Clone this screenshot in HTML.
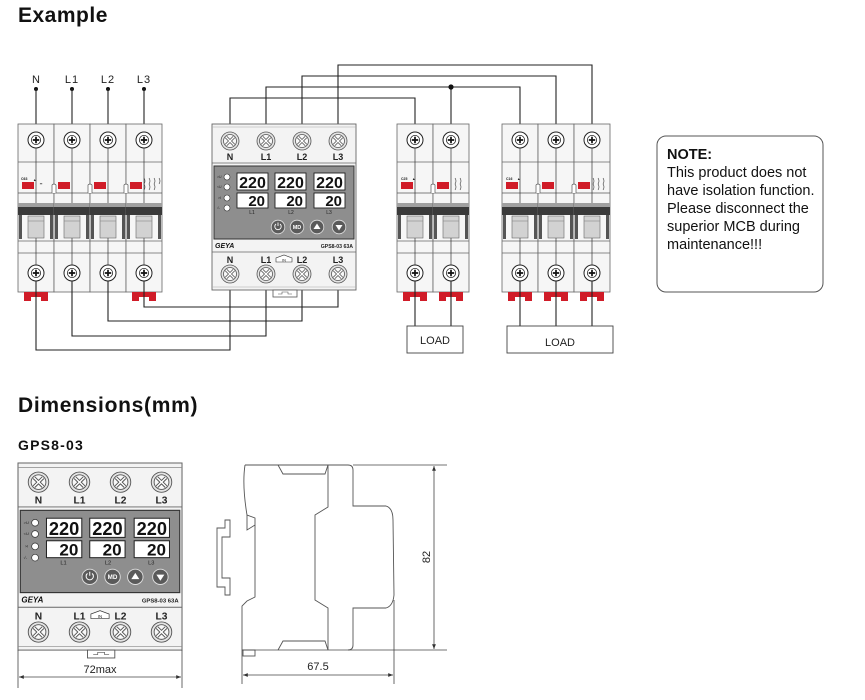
<!DOCTYPE html>
<html><head><meta charset="utf-8"><style>
html,body{margin:0;padding:0;background:#fff;}
svg{display:block;}
text{font-family:"Liberation Sans",Arial,sans-serif;}
</style></head><body>
<svg width="865" height="700" viewBox="0 0 865 700" xmlns="http://www.w3.org/2000/svg">
<defs>
<g id="screw">
<circle r="8" fill="#fff" stroke="#222" stroke-width="1"/>
<circle r="4.6" fill="#fff" stroke="#222" stroke-width="0.8"/>
<path d="M-3.2,0 H3.2 M0,-3.2 V3.2" stroke="#111" stroke-width="1.7"/>
</g>
<g id="pole">
<rect x="0" y="124" width="36" height="168" fill="#f6f6f6" stroke="#666" stroke-width="0.8"/>
<line x1="0" y1="162" x2="36" y2="162" stroke="#666" stroke-width="0.8"/>
<line x1="0" y1="193" x2="36" y2="193" stroke="#555" stroke-width="0.8"/>
<line x1="18" y1="148" x2="18" y2="203" stroke="#333" stroke-width="0.7"/>
<rect x="0" y="203" width="36" height="4" fill="#a0a0a0"/>
<rect x="0" y="207" width="36" height="8" fill="#3a3a3a"/>
<rect x="1" y="215" width="3" height="24" fill="#555"/>
<rect x="32" y="215" width="3" height="24" fill="#555"/>
<rect x="10" y="216" width="16" height="22" fill="#d2d2d2" stroke="#666" stroke-width="0.6"/>
<line x1="10" y1="221" x2="26" y2="221" stroke="#888" stroke-width="0.6"/>
<line x1="0" y1="241" x2="36" y2="241" stroke="#666" stroke-width="0.8"/>
<line x1="0" y1="253" x2="36" y2="253" stroke="#666" stroke-width="0.8"/>
<line x1="18" y1="238" x2="18" y2="265" stroke="#333" stroke-width="0.7"/>
<use href="#screw" x="18" y="140"/>
<use href="#screw" x="18" y="273"/>
<rect x="4" y="182" width="12" height="7" fill="#d01c28"/>
</g>
<g id="clip"><path d="M-12,292 H12 V301 H5 V297 H-5 V301 H-12 Z" fill="#d01c28"/></g>
<g id="gterm">
<circle r="9" fill="#e4e4e4" stroke="#555" stroke-width="0.8"/>
<circle r="6.5" fill="#f8f8f8" stroke="#555" stroke-width="0.8"/>
<path d="M-4,-4 L4,4 M4,-4 L-4,4" stroke="#555" stroke-width="3"/>
<path d="M-4,-4 L4,4 M4,-4 L-4,4" stroke="#fff" stroke-width="1.3"/>
</g>
<g id="btn"><circle r="6.8" fill="#5a5a5a" stroke="#e0e0e0" stroke-width="0.8"/></g>
<marker id="ar" viewBox="0 0 10 10" refX="10" refY="5" markerWidth="8" markerHeight="6" orient="auto-start-reverse"><path d="M0,1 L10,5 L0,9 Z" fill="#333"/></marker>
</defs>

<!-- Titles -->
<text x="18" y="22" font-size="21" font-weight="bold" letter-spacing="0.5" fill="#111">Example</text>
<text x="18" y="412" font-size="21" font-weight="bold" letter-spacing="0.7" fill="#111">Dimensions(mm)</text>
<text x="18" y="450" font-size="14" font-weight="bold" letter-spacing="1.2" fill="#111">GPS8-03</text>

<!-- Input labels -->
<g font-size="11" fill="#222" text-anchor="middle">
<text x="36" y="83">N</text><text x="72" y="83" letter-spacing="1">L1</text><text x="108" y="83" letter-spacing="1">L2</text><text x="144" y="83" letter-spacing="1">L3</text>
</g>
<g fill="#111"><circle cx="36" cy="89" r="2"/><circle cx="72" cy="89" r="2"/><circle cx="108" cy="89" r="2"/><circle cx="144" cy="89" r="2"/></g>
<g stroke="#222" stroke-width="1.1" fill="none">
<path d="M36,89 V132 M72,89 V132 M108,89 V132 M144,89 V132"/>
</g>

<!-- 4-pole breaker -->
<use href="#pole" x="18"/><use href="#pole" x="54"/><use href="#pole" x="90"/><use href="#pole" x="126"/>
<use href="#clip" x="36"/><use href="#clip" x="144"/>
<g font-size="3.5" fill="#222" font-weight="bold"><text x="21" y="180">C63</text><text x="33" y="181">▲</text><text x="40" y="185">━</text></g>
<g stroke="#555" stroke-width="0.7" fill="#fff">
<path d="M52,193 V185 Q54,183 56,185 V193 M88,193 V185 Q90,183 92,185 V193 M124,193 V185 Q126,183 128,185 V193"/>
</g>
<g stroke="#333" stroke-width="0.6" fill="none"><path d="M144,178 q2,3 0,6 q2,3 0,6 M149,178 q2,3 0,6 q2,3 0,6 M154,178 q2,3 0,6 q2,3 0,6 M159,178 q2,3 0,6"/></g>

<!-- bottom wires to GPS -->
<g stroke="#222" stroke-width="1.1" fill="none">
<path d="M36,281 V350 H230 V283"/>
<path d="M72,281 V336 H266 V283"/>
<path d="M108,281 V321 H302 V283"/>
<path d="M144,281 V307 H338 V283"/>
</g>

<!-- top wires GPS to right breakers -->
<g stroke="#222" stroke-width="1.1" fill="none">
<path d="M230,132 V98 H415 V132"/>
<path d="M266,132 V87 H520 V132"/>
<path d="M302,132 V76 H556 V132"/>
<path d="M338,132 V65 H592 V132"/>
<path d="M451,87 V132"/>
</g>
<circle cx="451" cy="87" r="2.6" fill="#111"/>

<!-- GPS device top -->
<g transform="translate(212,124)">
<rect x="0" y="0" width="144" height="166" fill="#f3f3f3" stroke="#666" stroke-width="0.9"/>
<line x1="0" y1="3" x2="144" y2="3" stroke="#aaa" stroke-width="0.6"/>
<line x1="0" y1="39" x2="144" y2="39" stroke="#666" stroke-width="0.8"/>
<use href="#gterm" x="18" y="17"/><use href="#gterm" x="54" y="17"/><use href="#gterm" x="90" y="17"/><use href="#gterm" x="126" y="17"/>
<g font-size="9" font-weight="bold" fill="#222" text-anchor="middle"><text x="18" y="36">N</text><text x="54" y="36">L1</text><text x="90" y="36">L2</text><text x="126" y="36">L3</text></g>
<rect x="2" y="42" width="140" height="73" fill="#8e8e8e" stroke="#333" stroke-width="1"/>
<g fill="#fff" stroke="#333" stroke-width="0.6"><circle cx="15" cy="53" r="3"/><circle cx="15" cy="63" r="3"/><circle cx="15" cy="74" r="3"/><circle cx="15" cy="84" r="3"/></g>
<g font-size="3.5" fill="#222"><text x="5" y="54">&gt;U</text><text x="5" y="64">&lt;U</text><text x="6" y="75">&gt;I</text><text x="5" y="85">√-</text></g>
<g fill="#fff" stroke="#222" stroke-width="0.9">
<rect x="25" y="49" width="31" height="17"/><rect x="63" y="49" width="31" height="17"/><rect x="102" y="49" width="31" height="17"/>
<rect x="25" y="69" width="31" height="15"/><rect x="63" y="69" width="31" height="15"/><rect x="102" y="69" width="31" height="15"/>
</g>
<g font-size="16" font-weight="bold" fill="#111" text-anchor="middle" font-family="Liberation Sans Narrow, Liberation Sans, sans-serif">
<text x="40.5" y="64">220</text><text x="78.5" y="64">220</text><text x="117.5" y="64">220</text>
</g>
<g font-size="15" font-weight="bold" fill="#111" text-anchor="end">
<text x="53" y="82">20</text><text x="91" y="82">20</text><text x="130" y="82">20</text>
</g>
<g font-size="5" fill="#222" text-anchor="middle"><text x="40" y="90">L1</text><text x="79" y="90">L2</text><text x="117" y="90">L3</text></g>
<use href="#btn" x="66" y="103"/><use href="#btn" x="85" y="103"/><use href="#btn" x="105" y="103"/><use href="#btn" x="127" y="103"/>
<path d="M64,100 a3.2,3.2 0 1 0 4,0 M66,98.5 V102" stroke="#fff" stroke-width="0.9" fill="none"/>
<text x="85" y="105" font-size="5.5" font-weight="bold" fill="#fff" text-anchor="middle">MD</text>
<path d="M105,99.5 L108.5,105 H101.5 Z" fill="#fff"/>
<path d="M127,106.5 L130.5,101 H123.5 Z" fill="#fff"/>
<text x="3" y="124" font-size="7" font-weight="bold" font-style="italic" fill="#111">GEYA</text>
<text x="141" y="124" font-size="5.2" font-weight="bold" fill="#222" text-anchor="end">GPS8-03 63A</text>
<line x1="0" y1="128" x2="144" y2="128" stroke="#666" stroke-width="0.8"/>
<g font-size="9" font-weight="bold" fill="#222" text-anchor="middle"><text x="18" y="139">N</text><text x="54" y="139">L1</text><text x="90" y="139">L2</text><text x="126" y="139">L3</text></g>
<path d="M64,138 V134 L72,131 L80,134 V138 Z" fill="#fff" stroke="#333" stroke-width="0.6"/>
<text x="72" y="137.5" font-size="3.8" fill="#222" text-anchor="middle">IN</text>
<use href="#gterm" x="18" y="150"/><use href="#gterm" x="54" y="150"/><use href="#gterm" x="90" y="150"/><use href="#gterm" x="126" y="150"/>
<line x1="0" y1="163" x2="144" y2="163" stroke="#aaa" stroke-width="0.6"/>
<rect x="61" y="166" width="24" height="7" fill="#fff" stroke="#555" stroke-width="0.8"/>
<path d="M66,170 h4 v-2 h6 v2 h4" stroke="#555" stroke-width="0.6" fill="none"/>
</g>

<!-- 2-pole breaker -->
<use href="#pole" x="397" transform="translate(0,0)"/><use href="#pole" x="433"/>
<use href="#clip" x="415"/><use href="#clip" x="451"/>
<g font-size="3.5" fill="#222" font-weight="bold"><text x="401" y="180">C25</text><text x="412" y="180">▲</text></g>
<path d="M431,193 V185 Q433,183 435,185 V193" stroke="#555" stroke-width="0.7" fill="#fff"/>
<g stroke="#333" stroke-width="0.6" fill="none"><path d="M455,178 q2,3 0,6 q2,3 0,6 M460,178 q2,3 0,6 q2,3 0,6"/></g>
<!-- 3-pole breaker -->
<use href="#pole" x="502"/><use href="#pole" x="538"/><use href="#pole" x="574"/>
<use href="#clip" x="520"/><use href="#clip" x="556"/><use href="#clip" x="592"/>
<g font-size="3.5" fill="#222" font-weight="bold"><text x="506" y="180">C16</text><text x="517" y="180">▲</text></g>
<path d="M536,193 V185 Q538,183 540,185 V193 M572,193 V185 Q574,183 576,185 V193" stroke="#555" stroke-width="0.7" fill="#fff"/>
<g stroke="#333" stroke-width="0.6" fill="none"><path d="M593,178 q2,3 0,6 q2,3 0,6 M598,178 q2,3 0,6 q2,3 0,6 M603,178 q2,3 0,6 q2,3 0,6"/></g>

<!-- load wires -->
<g stroke="#222" stroke-width="1.1" fill="none">
<path d="M415,281 V326 M451,281 V326 M520,281 V326 M556,281 V326 M592,281 V326"/>
</g>
<rect x="407" y="326" width="56" height="27" fill="#fff" stroke="#444" stroke-width="0.9"/>
<rect x="507" y="326" width="106" height="27" fill="#fff" stroke="#444" stroke-width="0.9"/>
<g font-size="11" fill="#222" text-anchor="middle"><text x="435" y="344">LOAD</text><text x="560" y="346">LOAD</text></g>

<!-- Note -->
<rect x="657" y="136" width="166" height="156" rx="9" ry="9" fill="#fff" stroke="#555" stroke-width="1"/>
<g font-size="14.5" fill="#111">
<text x="667" y="159" font-weight="bold">NOTE:</text>
<text x="667" y="177">This product does not</text>
<text x="667" y="195">have isolation function.</text>
<text x="667" y="213">Please disconnect the</text>
<text x="667" y="231">superior MCB during</text>
<text x="667" y="249">maintenance!!!</text>
</g>

<!-- GPS device bottom (dimensions) -->
<g transform="translate(18,463) scale(1.139,1.127)">
<rect x="0" y="0" width="144" height="166" fill="#f3f3f3" stroke="#666" stroke-width="0.9"/>
<line x1="0" y1="4" x2="144" y2="4" stroke="#888" stroke-width="0.6"/>
<line x1="0" y1="39" x2="144" y2="39" stroke="#666" stroke-width="0.8"/>
<use href="#gterm" x="18" y="17"/><use href="#gterm" x="54" y="17"/><use href="#gterm" x="90" y="17"/><use href="#gterm" x="126" y="17"/>
<g font-size="9" font-weight="bold" fill="#222" text-anchor="middle"><text x="18" y="36">N</text><text x="54" y="36">L1</text><text x="90" y="36">L2</text><text x="126" y="36">L3</text></g>
<rect x="2" y="42" width="140" height="73" fill="#8e8e8e" stroke="#333" stroke-width="1"/>
<g fill="#fff" stroke="#333" stroke-width="0.6"><circle cx="15" cy="53" r="3"/><circle cx="15" cy="63" r="3"/><circle cx="15" cy="74" r="3"/><circle cx="15" cy="84" r="3"/></g>
<g font-size="3.5" fill="#222"><text x="5" y="54">&gt;U</text><text x="5" y="64">&lt;U</text><text x="6" y="75">&gt;I</text><text x="5" y="85">√-</text></g>
<g fill="#fff" stroke="#222" stroke-width="0.9">
<rect x="25" y="49" width="31" height="17"/><rect x="63" y="49" width="31" height="17"/><rect x="102" y="49" width="31" height="17"/>
<rect x="25" y="69" width="31" height="15"/><rect x="63" y="69" width="31" height="15"/><rect x="102" y="69" width="31" height="15"/>
</g>
<g font-size="16" font-weight="bold" fill="#111" text-anchor="middle">
<text x="40.5" y="64">220</text><text x="78.5" y="64">220</text><text x="117.5" y="64">220</text>
</g>
<g font-size="15" font-weight="bold" fill="#111" text-anchor="end">
<text x="53" y="82">20</text><text x="91" y="82">20</text><text x="130" y="82">20</text>
</g>
<g font-size="5" fill="#222" text-anchor="middle"><text x="40" y="90">L1</text><text x="79" y="90">L2</text><text x="117" y="90">L3</text></g>
<use href="#btn" x="63" y="101"/><use href="#btn" x="83" y="101"/><use href="#btn" x="103" y="101"/><use href="#btn" x="125" y="101"/>
<path d="M61,98 a3.2,3.2 0 1 0 4,0 M63,96.5 V100" stroke="#fff" stroke-width="0.9" fill="none"/>
<text x="83" y="103" font-size="5.5" font-weight="bold" fill="#fff" text-anchor="middle">MD</text>
<path d="M103,97.5 L106.5,103 H99.5 Z" fill="#fff"/>
<path d="M125,104.5 L128.5,99 H121.5 Z" fill="#fff"/>
<text x="3" y="124" font-size="7" font-weight="bold" font-style="italic" fill="#111">GEYA</text>
<text x="141" y="124" font-size="5.2" font-weight="bold" fill="#222" text-anchor="end">GPS8-03 63A</text>
<line x1="0" y1="128" x2="144" y2="128" stroke="#666" stroke-width="0.8"/>
<g font-size="9" font-weight="bold" fill="#222" text-anchor="middle"><text x="18" y="139">N</text><text x="54" y="139">L1</text><text x="90" y="139">L2</text><text x="126" y="139">L3</text></g>
<path d="M64,138 V134 L72,131 L80,134 V138 Z" fill="#fff" stroke="#333" stroke-width="0.6"/>
<text x="72" y="137.5" font-size="3.8" fill="#222" text-anchor="middle">IN</text>
<use href="#gterm" x="18" y="150"/><use href="#gterm" x="54" y="150"/><use href="#gterm" x="90" y="150"/><use href="#gterm" x="126" y="150"/>
<line x1="0" y1="163" x2="144" y2="163" stroke="#888" stroke-width="0.6"/>
<rect x="61" y="166" width="24" height="7" fill="#fff" stroke="#555" stroke-width="0.8"/>
<path d="M66,170 h4 v-2 h6 v2 h4" stroke="#555" stroke-width="0.6" fill="none"/>
</g>
<!-- 72max dimension -->
<g stroke="#444" stroke-width="0.8">
<line x1="18" y1="650" x2="18" y2="688"/><line x1="182" y1="650" x2="182" y2="688"/>
<line x1="19" y1="677" x2="181" y2="677" marker-start="url(#ar)" marker-end="url(#ar)"/>
</g>
<text x="100" y="673" font-size="11" fill="#222" text-anchor="middle">72max</text>

<!-- Side view -->
<g stroke="#555" stroke-width="0.9" fill="none">
<path d="M245,465 H348 Q353,465 353,470 V506 H386 Q393,508 393,520 L394,595 Q393,606 386,608 H353 V645 Q353,650 348,650"/>
<path d="M245,465 Q242,485 247,515 L255,518 V597 L247,601 L242,606 V650"/>
<path d="M247,515 V530 L255,525"/>
<path d="M278,465 L283,474 H325 L328,465"/>
<path d="M278,650 L283,641 H325 L328,650"/>
<path d="M328,465 V507 L315,515 V600 L328,608 V650"/>
<rect x="243" y="650" width="12" height="6"/>
<path d="M230,520 H225 V528 H217 V587 H225 V595 H230 V578 H222 V537 H230 Z"/>
</g>
<g stroke="#444" stroke-width="0.8">
<line x1="353" y1="465" x2="447" y2="465"/>
<line x1="242" y1="650" x2="447" y2="650"/>
<line x1="394" y1="600" x2="394" y2="684"/>
<line x1="242" y1="650" x2="242" y2="684"/>
<line x1="434" y1="466" x2="434" y2="649" marker-start="url(#ar)" marker-end="url(#ar)"/>
<line x1="243" y1="675" x2="393" y2="675" marker-start="url(#ar)" marker-end="url(#ar)"/>
</g>
<text x="318" y="670" font-size="11" fill="#222" text-anchor="middle">67.5</text>
<text x="0" y="0" font-size="11" fill="#222" text-anchor="middle" transform="translate(430,557) rotate(-90)">82</text>
</svg>
</body></html>
